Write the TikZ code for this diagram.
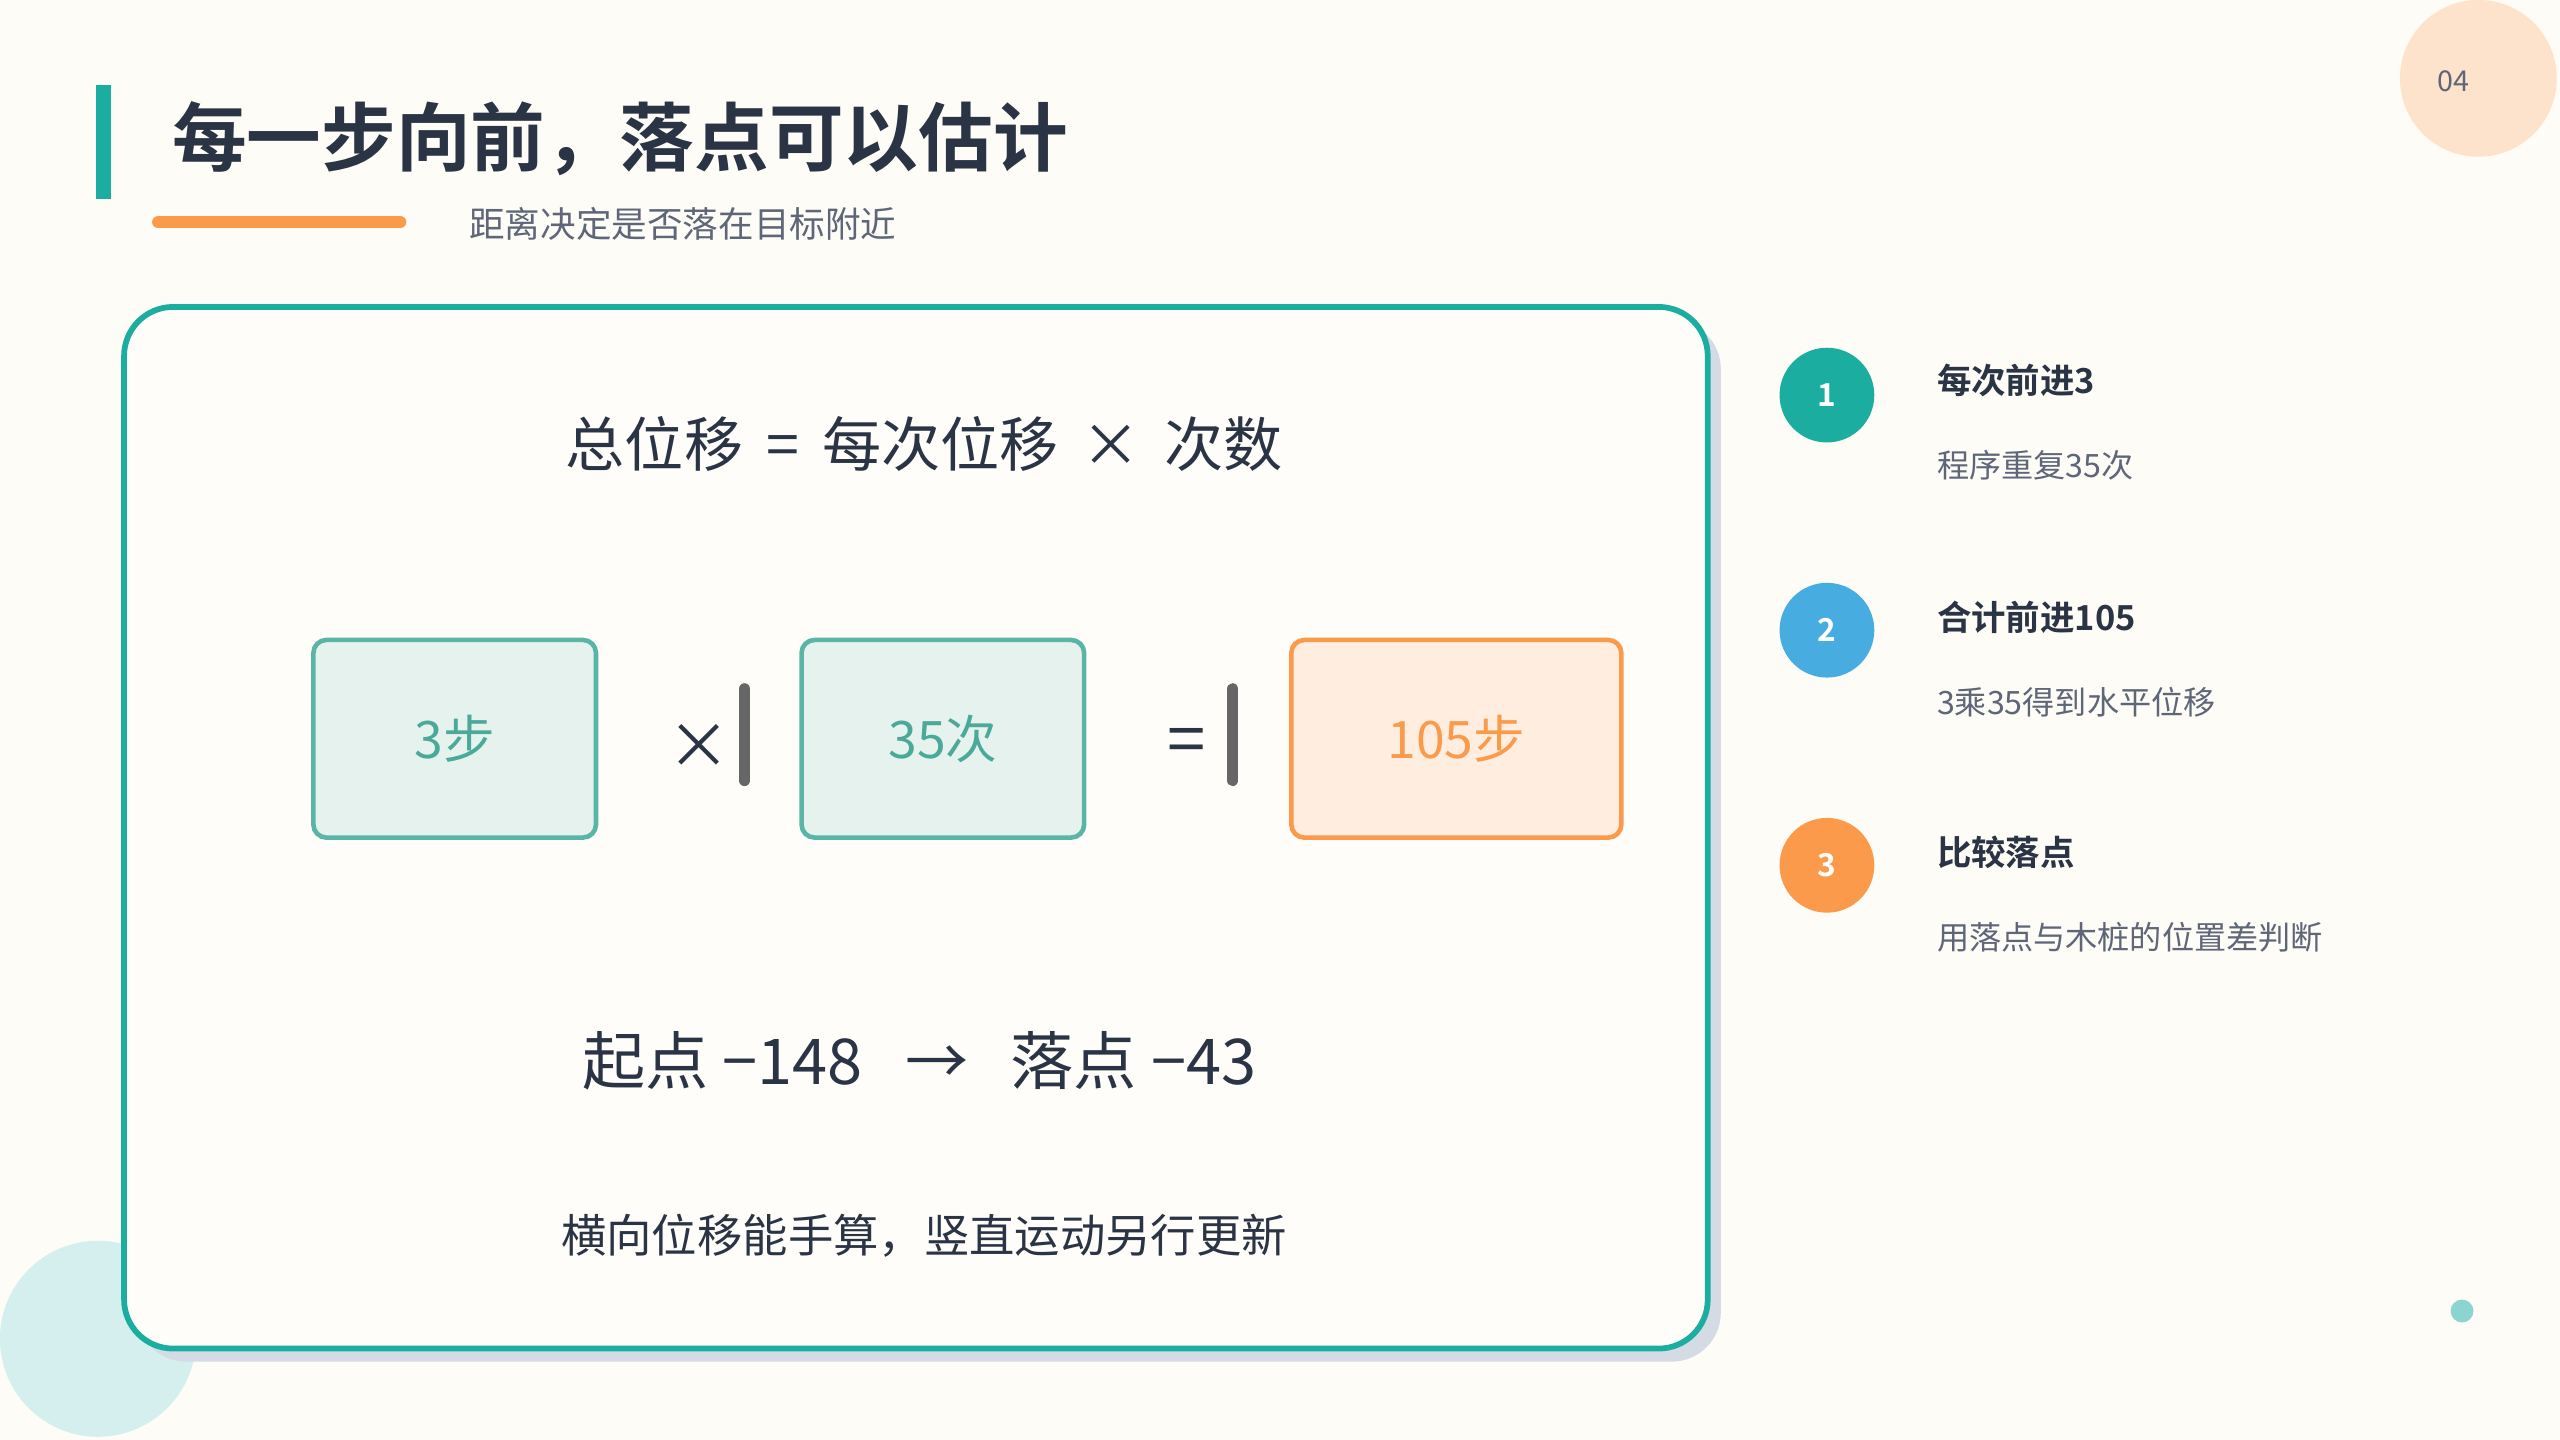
\documentclass[tikz,border=0pt]{standalone}
\usepackage{fontspec}
\setmainfont{Noto Sans CJK SC}
\newfontfamily\cjkbold{Noto Sans CJK SC Bold}
\definecolor{bgc}{HTML}{FDFCF6}
\definecolor{ink}{HTML}{2B3445}
\definecolor{muted}{HTML}{5E6678}
\definecolor{tealc}{HTML}{1AADA0}
\definecolor{bluec}{HTML}{47ADE0}
\definecolor{orangec}{HTML}{FA9A4A}
\definecolor{mintc}{HTML}{D4EFEE}
\definecolor{peachc}{HTML}{FDE3CC}
\definecolor{dotc}{HTML}{8CD4D0}
\definecolor{shadowc}{HTML}{D5DBE5}
\definecolor{cardc}{HTML}{FEFDF9}
\definecolor{boxline}{HTML}{5BB5A6}
\definecolor{boxfill}{HTML}{E6F2EE}
\definecolor{boxtext}{HTML}{4BA99A}
\definecolor{ofill}{HTML}{FFEEDF}
\begin{document}
\begin{tikzpicture}[x=0.01cm,y=-0.01cm,
box/.style={draw=#1, rounded corners=0.08cm, line width=0.8pt, minimum width=1.73cm, minimum height=1.21cm, font=\fontsize{9}{9}\selectfont},
badge/.style={circle, fill=#1, minimum size=0.58cm, inner sep=0pt, text=white, font=\cjkbold\fontsize{5.5}{6}\selectfont},
head/.style={anchor=west, text=ink, font=\cjkbold\fontsize{6}{7}\selectfont},
sub/.style={anchor=west, text=muted, font=\fontsize{5.6}{7}\selectfont},
bar/.style={draw=gray!80!black, line width=2pt, line cap=round}
]
\useasboundingbox[fill=bgc] (0,0) rectangle (1568,882);
%Decor
\fill[mintc] (60,820) circle (0.6cm);
\fill[peachc] (1518,48) circle (0.48cm);
\node[text=muted, font=\fontsize{5}{6}\selectfont] (pg) at (1503,50) {04};
\fill[dotc] (1508,803) circle (0.07cm);
%Title
\fill[tealc] (59,52) rectangle (68,122);
\node[anchor=west, text=ink, font=\cjkbold\fontsize{13}{14}\selectfont] (title) at (93,85) {每一步向前，落点可以估计};
\draw[orangec, line width=2.2pt, line cap=round] (97,136) -- (245,136);
\node[anchor=west, text=muted, font=\fontsize{6.2}{7}\selectfont] (subt) at (275,137) {距离决定是否落在目标附近};
%Card
\fill[shadowc, rounded corners=0.3cm] (84,196) rectangle (1054,834);
\draw[tealc, fill=cardc, line width=1pt, rounded corners=0.3cm] (76,188) rectangle (1046,826);
\node[text=ink, font=\fontsize{10.3}{11}\selectfont] (eq) at (566,272) {总位移 \,=\, 每次位移 \,×\, 次数};
\node[box=boxline, fill=boxfill, text=boxtext] (b1) at (278.5,452.5) {3步};
\node[box=boxline, fill=boxfill, text=boxtext] (b2) at (577.5,452.5) {35次};
\node[box=orangec, fill=ofill, text=orangec, minimum width=2.02cm] (b3) at (892,452.5) {105步};
\node[text=ink, font=\fontsize{11}{11}\selectfont] (times) at (428,457) {×};
\draw[bar] (456,422) -- (456,478);
\node[text=ink, font=\fontsize{12}{12}\selectfont] (eqs) at (727,457) {=};
\draw[bar] (755,422) -- (755,478);
\node[text=ink, font=\fontsize{11}{11}\selectfont] (move) at (563,650) {起点 −148 \ \ → \ \ 落点 −43};
\node[text=ink, font=\fontsize{7.9}{9}\selectfont] (note) at (566,757) {横向位移能手算，竖直运动另行更新};
%List
\node[badge=tealc] (n1) at (1119,242) {1};
\node[badge=bluec] (n2) at (1119,386) {2};
\node[badge=orangec] (n3) at (1119,530) {3};
\node[head] (h1) at (1174,233) {每次前进3};
\node[sub] (s1) at (1174,285) {程序重复35次};
\node[head] (h2) at (1174,378) {合计前进105};
\node[sub] (s2) at (1174,430) {3乘35得到水平位移};
\node[head] (h3) at (1174,522) {比较落点};
\node[sub] (s3) at (1174,574) {用落点与木桩的位置差判断};
\end{tikzpicture}
\end{document}
